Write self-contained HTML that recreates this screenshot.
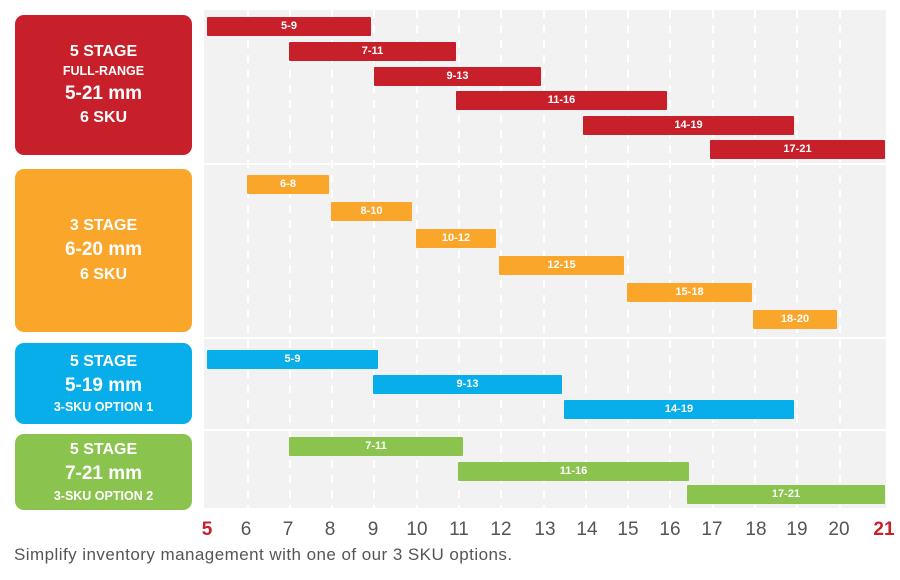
<!DOCTYPE html><html><head><style>
body{margin:0;width:900px;height:580px;background:#fff;font-family:"Liberation Sans",sans-serif;position:relative;overflow:hidden}
div{position:absolute;box-sizing:border-box}
.box{border-radius:9px;color:#fff;font-weight:bold;text-align:center;display:flex;flex-direction:column;justify-content:center;align-items:center;line-height:1.38}
.b{height:19px;color:#fff;font-weight:bold;font-size:11px;text-align:center;line-height:19px;border-radius:1px}
.r{background:#c8202a}.o{background:#f9a62a}.bl{background:#08aeea}.g{background:#8bc34f}
.gl{top:10px;height:498px;width:2px;margin-left:-1px;background:repeating-linear-gradient(to bottom,#fff 0 8px,transparent 8px 15px)}
.sep{left:203px;width:684px;height:2px;background:#fff}
.t{top:519px;font-size:19px;color:#555;width:30px;margin-left:-15px;text-align:center}
</style></head><body>
<div style="left:204px;top:10px;width:682px;height:498px;background:#f2f2f3"></div>
<div class="gl" style="left:248px"></div><div class="gl" style="left:290px"></div><div class="gl" style="left:332px"></div><div class="gl" style="left:374px"></div><div class="gl" style="left:417px"></div><div class="gl" style="left:459px"></div><div class="gl" style="left:501px"></div><div class="gl" style="left:544px"></div><div class="gl" style="left:586px"></div><div class="gl" style="left:628px"></div><div class="gl" style="left:670px"></div><div class="gl" style="left:713px"></div><div class="gl" style="left:755px"></div><div class="gl" style="left:797px"></div><div class="gl" style="left:840px"></div>
<div class="sep" style="top:163px"></div><div class="sep" style="top:337px"></div><div class="sep" style="top:429px"></div>
<div class="box r" style="left:15px;top:15px;width:177px;height:140px"><span style="font-size:16px">5 STAGE</span><span style="font-size:12.5px">FULL-RANGE</span><span style="font-size:19px">5-21 mm</span><span style="font-size:16px">6 SKU</span></div>
<div class="box o" style="left:15px;top:169px;width:177px;height:163px"><span style="font-size:16px">3 STAGE</span><span style="font-size:19px">6-20 mm</span><span style="font-size:16px">6 SKU</span></div>
<div class="box bl" style="left:15px;top:343px;width:177px;height:81px"><span style="font-size:16px">5 STAGE</span><span style="font-size:19px">5-19 mm</span><span style="font-size:12.5px">3-SKU OPTION 1</span></div>
<div class="box g" style="left:15px;top:434px;width:177px;height:76px"><span style="font-size:16px">5 STAGE</span><span style="font-size:19px">7-21 mm</span><span style="font-size:12.5px">3-SKU OPTION 2</span></div>
<div class="b r" style="left:207px;top:17px;width:164px">5-9</div>
<div class="b r" style="left:289px;top:42px;width:167px">7-11</div>
<div class="b r" style="left:374px;top:67px;width:167px">9-13</div>
<div class="b r" style="left:456px;top:91px;width:211px">11-16</div>
<div class="b r" style="left:583px;top:116px;width:211px">14-19</div>
<div class="b r" style="left:710px;top:140px;width:175px">17-21</div>
<div class="b o" style="left:247px;top:175px;width:82px">6-8</div>
<div class="b o" style="left:331px;top:202px;width:81px">8-10</div>
<div class="b o" style="left:416px;top:229px;width:80px">10-12</div>
<div class="b o" style="left:499px;top:256px;width:125px">12-15</div>
<div class="b o" style="left:627px;top:283px;width:125px">15-18</div>
<div class="b o" style="left:753px;top:310px;width:84px">18-20</div>
<div class="b bl" style="left:207px;top:350px;width:171px">5-9</div>
<div class="b bl" style="left:373px;top:375px;width:189px">9-13</div>
<div class="b bl" style="left:564px;top:400px;width:230px">14-19</div>
<div class="b g" style="left:289px;top:437px;width:174px">7-11</div>
<div class="b g" style="left:458px;top:462px;width:231px">11-16</div>
<div class="b g" style="left:687px;top:485px;width:198px">17-21</div>
<div class="t" style="left:207px;color:#c8202a;font-weight:bold">5</div><div class="t" style="left:246px">6</div><div class="t" style="left:288px">7</div><div class="t" style="left:330px">8</div><div class="t" style="left:373px">9</div><div class="t" style="left:417px">10</div><div class="t" style="left:459px">11</div><div class="t" style="left:501px">12</div><div class="t" style="left:545px">13</div><div class="t" style="left:587px">14</div><div class="t" style="left:628px">15</div><div class="t" style="left:670px">16</div><div class="t" style="left:712px">17</div><div class="t" style="left:756px">18</div><div class="t" style="left:797px">19</div><div class="t" style="left:839px">20</div><div class="t" style="left:884px;color:#c8202a;font-weight:bold">21</div>
<div style="left:14px;top:545px;font-size:17px;letter-spacing:0.45px;color:#555;white-space:nowrap">Simplify inventory management with one of our 3 SKU options.</div>
</body></html>
